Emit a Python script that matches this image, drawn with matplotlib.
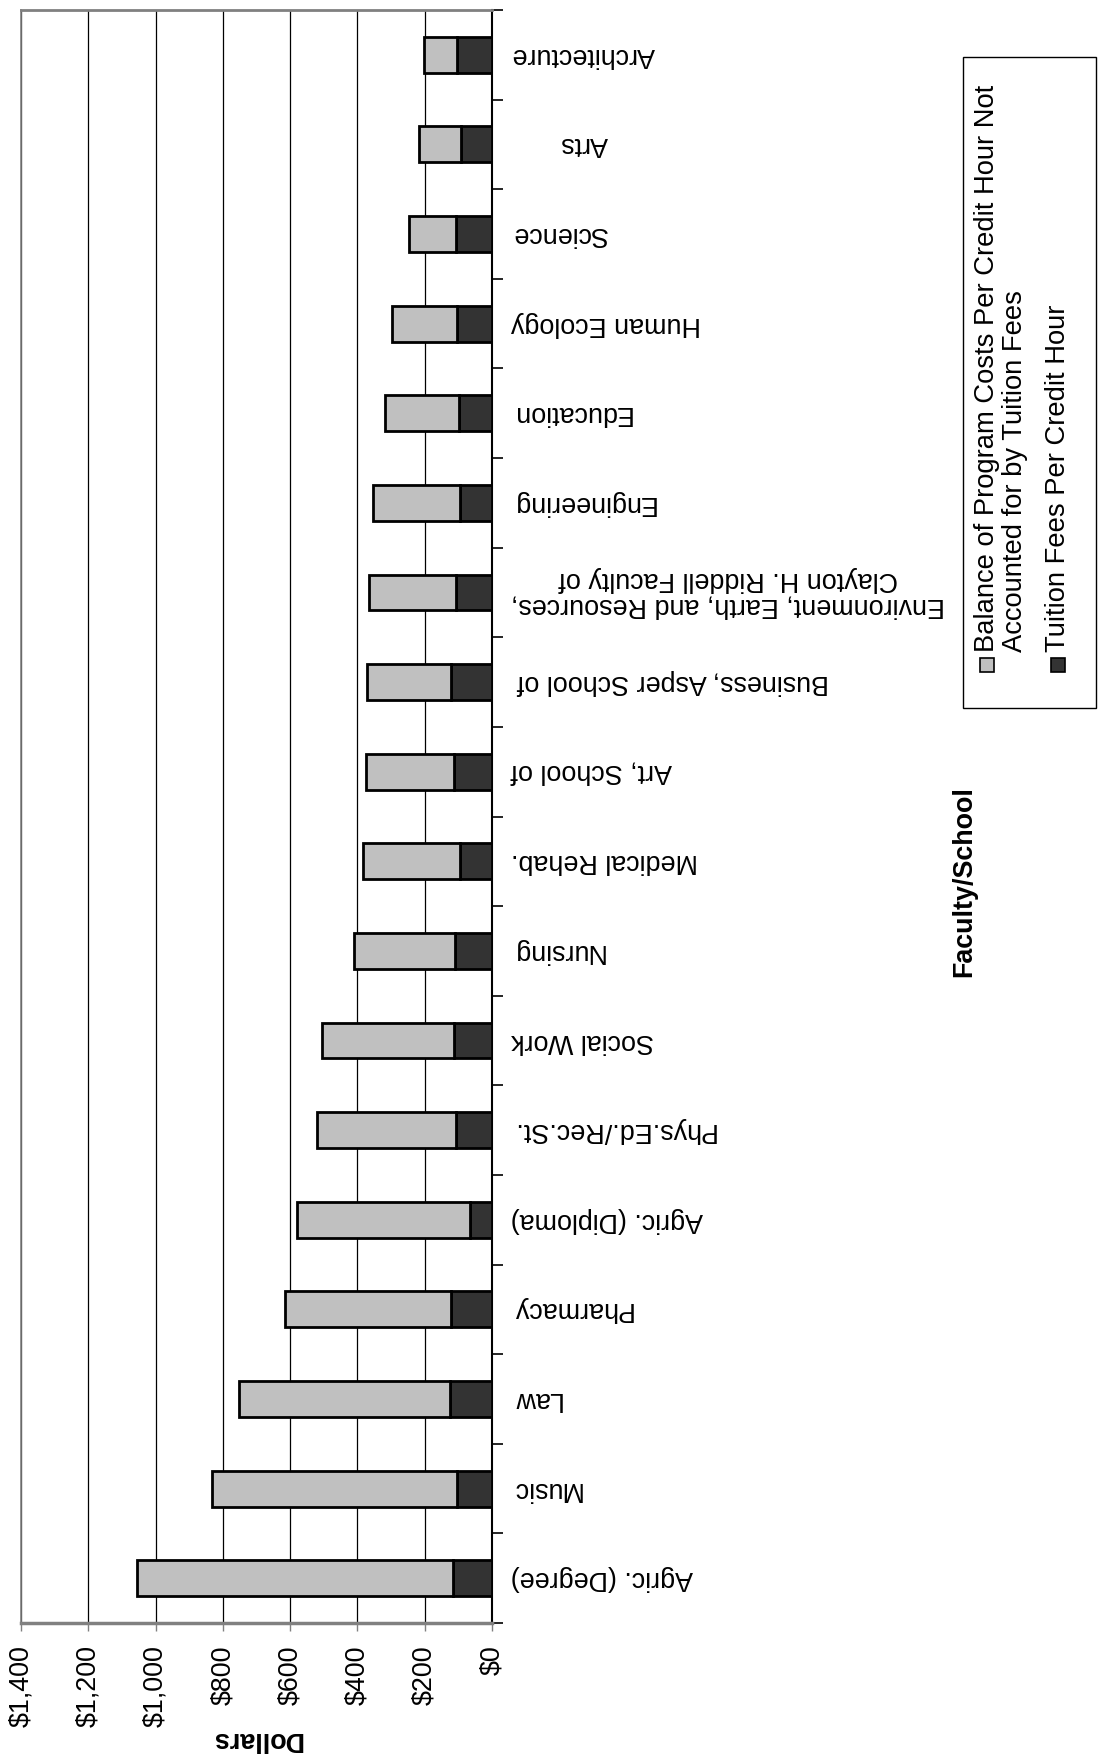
import matplotlib
matplotlib.use("Agg")
import matplotlib.pyplot as plt
import matplotlib.patches as mpatches
import matplotlib.transforms as mtrans
import numpy as np

plt.rcParams['font.family'] = ['Liberation Sans', 'DejaVu Sans']

# categories from bottom (largest) to top
faculties = ["Agric. (Degree)", "Music", "Law", "Pharmacy", "Agric. (Diploma)",
             "Phys.Ed./Rec.St.", "Social Work", "Nursing", "Medical Rehab.",
             "Art, School of", "Business, Asper School of",
             "Environment, Earth, and Resources,\nClayton H. Riddell Faculty of",
             "Engineering", "Education", "Human Ecology", "Science", "Arts",
             "Architecture"]
total_cost = [1055, 832, 751, 615, 580, 520, 505, 410, 384, 375, 373, 366,
              355, 319, 296, 247, 218, 203]
tuition = [116, 104, 125, 121, 65, 106, 114, 111, 95, 113, 122, 107,
           94, 98, 103, 106, 91, 104]
balance = [t - f for t, f in zip(total_cost, tuition)]
series_names = ["Balance of Program Costs Per Credit Hour Not\nAccounted for by Tuition Fees",
                "Tuition Fees Per Credit Hour"]
series_colors = ["#C0C0C0", "#333333"]
dollar_ticks = [0, 200, 400, 600, 800, 1000, 1200, 1400]

W, H = 1098, 1763
fs = 19.4

fig = plt.figure(figsize=(W / 100, H / 100), dpi=100)
ax = fig.add_axes([21 / W, 1 - 1623 / H, (492 - 21) / W, (1623 - 10) / H])

y = np.arange(len(faculties))
ax.barh(y, tuition, height=0.4, color=series_colors[1], edgecolor="black", linewidth=2, zorder=3)
ax.barh(y, balance, left=tuition, height=0.4, color=series_colors[0], edgecolor="black",
        linewidth=2, zorder=3)

ax.set_xlim(1400, 0)
ax.set_ylim(-0.5, len(faculties) - 0.5)

ax.set_xticks(dollar_ticks)
ax.set_xticklabels(["${:,}".format(v) for v in dollar_ticks], rotation=90, fontsize=fs)
ax.tick_params(axis="x", direction="out", length=6, width=1, pad=10, colors="#808080",
               labelcolor="black")
ax.xaxis.grid(True, color="black", linewidth=0.9, zorder=0)
ax.set_axisbelow(True)

# category axis on the right, ticks between the bars
ax.yaxis.tick_right()
ax.set_yticks([])
ax.set_yticks(np.arange(len(faculties) + 1) - 0.5, minor=True)
ax.tick_params(axis="y", which="minor", length=8, width=1.2, direction="out")

# labels upside down, as in the scanned page
nudge = {"Arts": 49, "Business, Asper School of": 6}
trans = ax.get_yaxis_transform()
for i, name in enumerate(faculties):
    off = mtrans.ScaledTranslation((19 + nudge.get(name, 0)) / 100, 0, fig.dpi_scale_trans)
    ax.text(1.0, i, name, transform=trans + off, rotation=180, ha="left", va="center",
            multialignment="center", fontsize=fs, linespacing=1.05, clip_on=False)

for s in ["top", "left", "bottom"]:
    ax.spines[s].set_color("#808080")
ax.spines["top"].set_linewidth(2)
ax.spines["bottom"].set_linewidth(2.5)
ax.spines["left"].set_linewidth(1.2)
ax.spines["right"].set_color("black")
ax.spines["right"].set_linewidth(1.5)

fig.text(257 / W, 1 - 1739 / H, "Dollars", rotation=180, ha="center", va="center",
         fontsize=fs, fontweight="bold")
fig.text(964 / W, 1 - 882 / H, "Faculty/School", rotation=90, ha="center", va="center",
         fontsize=fs, fontweight="bold")

# legend drawn by hand, rotated like the rest of the chart
box = mpatches.Rectangle((963 / W, 1 - 708 / H), (1096 - 963) / W, (708 - 57) / H,
                         transform=fig.transFigure, facecolor="white", edgecolor="black",
                         linewidth=1)
fig.patches.append(box)
entry_x = [1001, 1058]
for name, col, ex in zip(series_names, series_colors, entry_x):
    nlines = name.count("\n") + 1
    fig.text(ex / W, 1 - 652 / H, name, rotation=90, ha="center", va="bottom",
             multialignment="left", fontsize=19.7, linespacing=1.12)
    first_x = ex - (nlines - 1) * 14
    sq = mpatches.Rectangle(((first_x - 7) / W, 1 - 672 / H), 14 / W, 14 / H,
                            transform=fig.transFigure, facecolor=col, edgecolor="black",
                            linewidth=1.2)
    fig.patches.append(sq)

fig.savefig("out.png", dpi=100)
